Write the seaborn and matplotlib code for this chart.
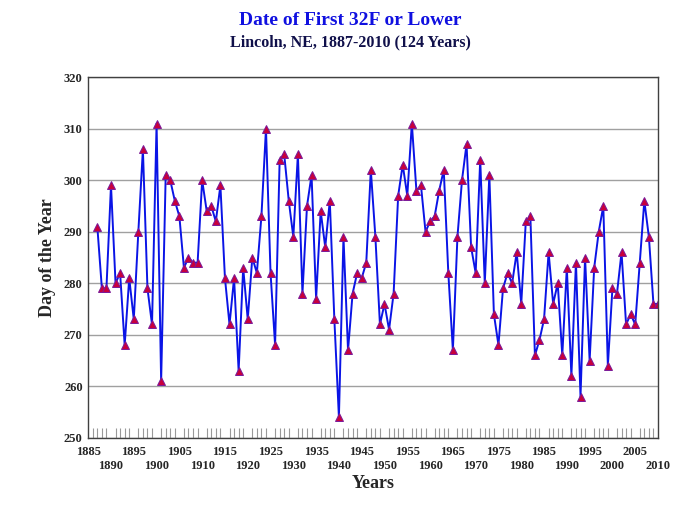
import numpy as np
import pandas as pd
import matplotlib
matplotlib.use('Agg')
import matplotlib.pyplot as plt
from matplotlib.ticker import MultipleLocator
import seaborn as sns

# first 32F (or lower) day of year, Lincoln NE
years = list(range(1887, 2011))
first_freeze = [291, 279, 279, 299, 280, 282, 268, 281, 273, 290,
                306, 279, 272, 311, 261, 301, 300, 296, 293, 283,
                285, 284, 284, 300, 294, 295, 292, 299, 281, 272,
                281, 263, 283, 273, 285, 282, 293, 310, 282, 268,
                304, 305, 296, 289, 305, 278, 295, 301, 277, 294,
                287, 296, 273, 254, 289, 267, 278, 282, 281, 284,
                302, 289, 272, 276, 271, 278, 297, 303, 297, 311,
                298, 299, 290, 292, 293, 298, 302, 282, 267, 289,
                300, 307, 287, 282, 304, 280, 301, 274, 268, 279,
                282, 280, 286, 276, 292, 293, 266, 269, 273, 286,
                276, 280, 266, 283, 262, 284, 258, 285, 265, 283,
                290, 295, 264, 279, 278, 286, 272, 274, 272, 284,
                296, 289, 276, 276]
y_ticks = list(range(250, 321, 10))
x_ticks = list(range(1885, 2011, 5))

df = pd.DataFrame({'year': years, 'day': first_freeze})

sns.set_style('white')
plt.rcParams['font.family'] = ['Liberation Serif', 'DejaVu Serif']
plt.rcParams['font.weight'] = 'bold'

fig, ax = plt.subplots(figsize=(7, 5.25), dpi=100)
fig.subplots_adjust(left=0.126, right=0.94, top=0.853, bottom=0.166)

sns.lineplot(data=df, x='year', y='day', ax=ax, color='#0a14e6', linewidth=1.4,
             marker='^', markersize=5.5, markerfacecolor='#c8003c',
             markeredgecolor='#7a1a9a', markeredgewidth=0.7)

ax.set_xlim(1885, 2010)
ax.set_ylim(250, 320)
ax.set_yticks(y_ticks)
ax.set_yticklabels([str(v) for v in y_ticks], fontsize=9, fontweight='bold')
ax.set_xticks(x_ticks)
ax.set_xticklabels([str(v) if i % 2 == 0 else '\n' + str(v) for i, v in enumerate(x_ticks)],
                   fontsize=9, fontweight='bold')
ax.xaxis.set_minor_locator(MultipleLocator(1))
ax.tick_params(axis='x', which='major', length=0, pad=6)
ax.tick_params(axis='x', which='minor', direction='in', length=7, color='#999999', width=0.8, bottom=True)
ax.tick_params(axis='y', length=0, pad=4)
ax.grid(axis='y', color='#a0a0a0', linewidth=1)
ax.set_axisbelow(True)
for s in ax.spines.values():
    s.set_color('#404040')
    s.set_linewidth(1)

ax.set_xlabel('Years', fontsize=13, fontweight='bold', labelpad=2)
ax.set_ylabel('Day of the Year', fontsize=13, fontweight='bold', labelpad=6)

fig.text(0.5, 0.961, 'Date of First 32F or Lower', ha='center', va='center',
         fontsize=14, fontweight='bold', color='#1010e0')
fig.text(0.5, 0.92, 'Lincoln, NE, 1887-2010 (124 Years)', ha='center', va='center',
         fontsize=11.5, fontweight='bold', color='#10104a')

fig.savefig('out.png', dpi=100)
